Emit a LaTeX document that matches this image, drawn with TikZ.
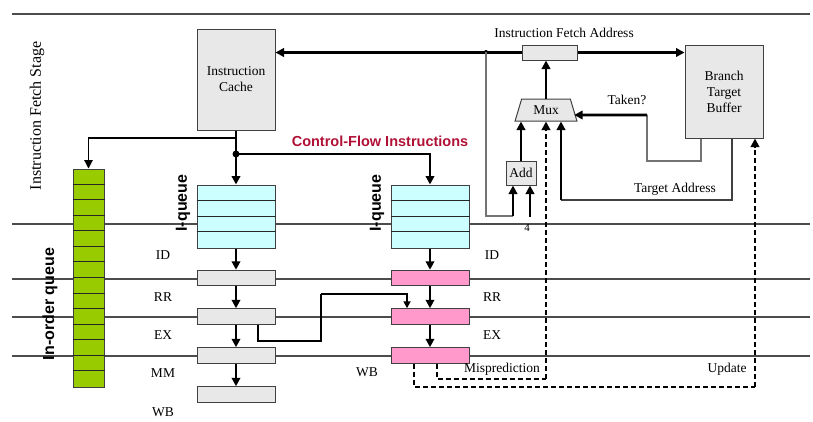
\documentclass[tikz,border=0pt]{standalone}
\usepackage{fontspec}
\setmainfont{Liberation Serif}
\setsansfont{Liberation Sans}
\usepackage{xcolor}
\usepackage{tikz}
\usetikzlibrary{arrows.meta,positioning,shapes.geometric,calc}

\definecolor{boxgray}{RGB}{232,232,232}
\definecolor{qcyan}{RGB}{204,255,255}
\definecolor{regpink}{RGB}{255,153,204}
\definecolor{qgreen}{RGB}{153,204,0}
\definecolor{ctrlred}{RGB}{176,16,54}
\definecolor{edgegray}{RGB}{64,64,64}

\begin{document}
\begin{tikzpicture}[
  x=1pt, y=-1pt,
  font=\fontsize{13.5}{16}\selectfont,
  unit/.style={
    draw=edgegray,
    line width=1pt,
    fill=boxgray,
    align=center,
    inner sep=0pt
  },
  reg/.style={
    unit,
    minimum width=78pt,
    minimum height=15.5pt
  },
  pinkreg/.style={
    reg,
    fill=regpink
  },
  queue/.style={
    unit,
    fill=qcyan,
    minimum width=78pt,
    minimum height=63pt
  },
  mux/.style={
    unit,
    trapezium,
    trapezium stretches=true,
    trapezium left angle=69,
    trapezium right angle=69,
    minimum width=62pt,
    minimum height=22pt
  },
  bus/.style={
    -{Triangle[length=8.5pt,width=8.5pt]},
    line width=2.8pt
  },
  fwd/.style={
    -{Triangle[length=7pt,width=7pt]},
    line width=1.7pt
  },
  wire/.style={
    line width=1.1pt,
    draw=black!55
  },
  ctl/.style={
    -{Triangle[length=8.5pt,width=8.5pt]},
    line width=2pt,
    dash pattern=on 5pt off 3pt
  },
  stageline/.style={
    line width=1.8pt,
    draw=black!70
  },
  cellline/.style={
    line width=0.9pt,
    draw=black!85
  },
  bold/.style={
    font=\sffamily\bfseries\fontsize{16}{18}\selectfont
  }
]
\useasboundingbox (0,0) rectangle (813,421);

%-----------------------------
% Stage boundaries
%-----------------------------
\draw[stageline] (12,14) -- (810,14);
\foreach \yy in {224,279,317,356}
  \draw[stageline] (12,\yy) -- (810,\yy);

\node[rotate=90, font=\fontsize{16}{18}\selectfont] (stage) at (37,116) {Instruction Fetch Stage};

%-----------------------------
% Fetch units
%-----------------------------
\node[unit, minimum width=78pt, minimum height=101pt] (cache) at (236,79.5) {Instruction\\Cache};
\node[unit, minimum width=55pt, minimum height=15pt] (fetchaddr) at (549.5,52.5) {};
\node (fetchlbl) at (564,33) {Instruction Fetch Address};
\node[unit, minimum width=78pt, minimum height=93pt] (btb) at (724,91.5) {Branch\\Target\\Buffer};
\node[mux] (mux) at (546,110) {Mux};
\node[unit, minimum width=30pt, minimum height=24pt] (add) at (521,173) {Add};

%-----------------------------
% Queues
%-----------------------------
\node[unit, fill=qgreen, minimum width=31pt, minimum height=218pt] (inorder) at (88.5,278) {};
\foreach \i in {1,...,13}
  \draw[cellline] ([yshift=-\i*15.57pt]inorder.north west) -- ([yshift=-\i*15.57pt]inorder.north east);
\node[rotate=90, bold] (inorderlbl) at (50,304) {In-order queue};

\node[queue] (iq1) at (236,216.5) {};
\node[queue] (iq2) at (430,216.5) {};
\foreach \q in {iq1,iq2}
  \foreach \i in {1,2,3}
    \draw[cellline] ([yshift=-\i*15.75pt]\q.north west) -- ([yshift=-\i*15.75pt]\q.north east);
\node[rotate=90, bold] (iq1lbl) at (183,203) {I-queue};
\node[rotate=90, bold] (iq2lbl) at (377,203) {I-queue};

%-----------------------------
% Pipeline registers
%-----------------------------
\node[reg] (lreg1) at (236,278) {};
\node[reg] (lreg2) at (236,316.5) {};
\node[reg] (lreg3) at (236,355.5) {};
\node[reg] (lreg4) at (236,394.5) {};
\node[pinkreg] (rreg1) at (430,278) {};
\node[pinkreg] (rreg2) at (430,316.5) {};
\node[pinkreg] (rreg3) at (430,355.5) {};

\node (lid) at (163,255) {ID};
\node (lrr) at (163,297) {RR};
\node (lex) at (163,335) {EX};
\node (lmm) at (163,373) {MM};
\node (lwb) at (163,412) {WB};
\node (rid) at (492,255) {ID};
\node (rrr) at (492,297) {RR};
\node (rex) at (492,335) {EX};
\node (rwb) at (367,372) {WB};

%-----------------------------
% Pipeline flow
%-----------------------------
\draw[bus] (iq1.south) -- (lreg1.north);
\draw[bus] (lreg1.south) -- (lreg2.north);
\draw[bus] (lreg2.south) -- (lreg3.north);
\draw[bus] (lreg3.south) -- (lreg4.north);
\draw[bus] (iq2.south) -- (rreg1.north);
\draw[bus] (rreg1.south) -- (rreg2.north);
\draw[bus] (rreg2.south) -- (rreg3.north);

\coordinate (fwdA) at (321,341);
\coordinate (fwdB) at (321,294);
\draw[fwd, -] ([xshift=22pt]lreg2.south) |- (fwdA) -- (fwdB);
\draw[fwd] (fwdB) -| ([xshift=-23pt]rreg2.north);

%-----------------------------
% Cache to queues
%-----------------------------
\coordinate (oqtap) at (236,138);
\coordinate (split) at (236,154);
\draw[line width=1.1pt, -{Triangle[length=8.5pt,width=8.5pt]}] (oqtap) -| (inorder.north);
\draw[bus] (cache.south) -- (iq1.north);
\draw[bus] (split) -| (iq2.north);
\fill (split) circle (3.5pt);
\node[bold, font=\sffamily\bfseries\fontsize{14.5}{16}\selectfont, text=ctrlred] (cflbl) at (380,141) {Control-Flow Instructions};

%-----------------------------
% Fetch address loop
%-----------------------------
\coordinate (tap) at (486,52);
\coordinate (addinA) at (513,216);
\coordinate (four) at (530,217);
\draw[bus] (fetchaddr.west) -- (fetchaddr.west -| cache.east);
\fill (tap) circle (2pt);
\draw[bus] (fetchaddr.east) -- (fetchaddr.east -| btb.west);
\draw[bus] (mux.north) -- (mux.north |- fetchaddr.south);
\draw[wire] (tap) |- (addinA);
\draw[bus] (addinA) -- (addinA |- add.south);
\draw[bus] (four) -- (four |- add.south);
\node[font=\fontsize{11}{12}\selectfont] (fourlbl) at (527,228) {4};
\draw[bus] (add.north) -- (add.north |- mux.south);

%-----------------------------
% Branch target buffer outputs
%-----------------------------
\coordinate (tkB) at (647,161);
\coordinate (tkC) at (647,115);
\draw[wire] ([xshift=-23pt]btb.south) |- (tkB) -- (tkC);
\draw[bus] (tkC) -- ([yshift=-5pt]mux.east);
\node (takenlbl) at (627,100) {Taken?};

\coordinate (tgt) at (561,200);
\draw[wire, draw=black!75] ([xshift=8pt]btb.south) |- (tgt);
\draw[bus] (tgt) -- (tgt |- mux.south);
\node (tgtlbl) at (675,189) {Target Address};

%-----------------------------
% Resolution feedback
%-----------------------------
\coordinate (mp) at (546,379);
\coordinate (upd) at (755,387);
\draw[ctl, -] ([xshift=7pt]rreg3.south) |- (mp);
\draw[ctl] (mp) -- (mp |- mux.south);
\draw[ctl, -] ([xshift=-16pt]rreg3.south) |- (upd);
\draw[ctl] (upd) -- (upd |- btb.south);
\node (mplbl) at (502,369) {Misprediction};
\node (updlbl) at (727,369) {Update};

\end{tikzpicture}
\end{document}
